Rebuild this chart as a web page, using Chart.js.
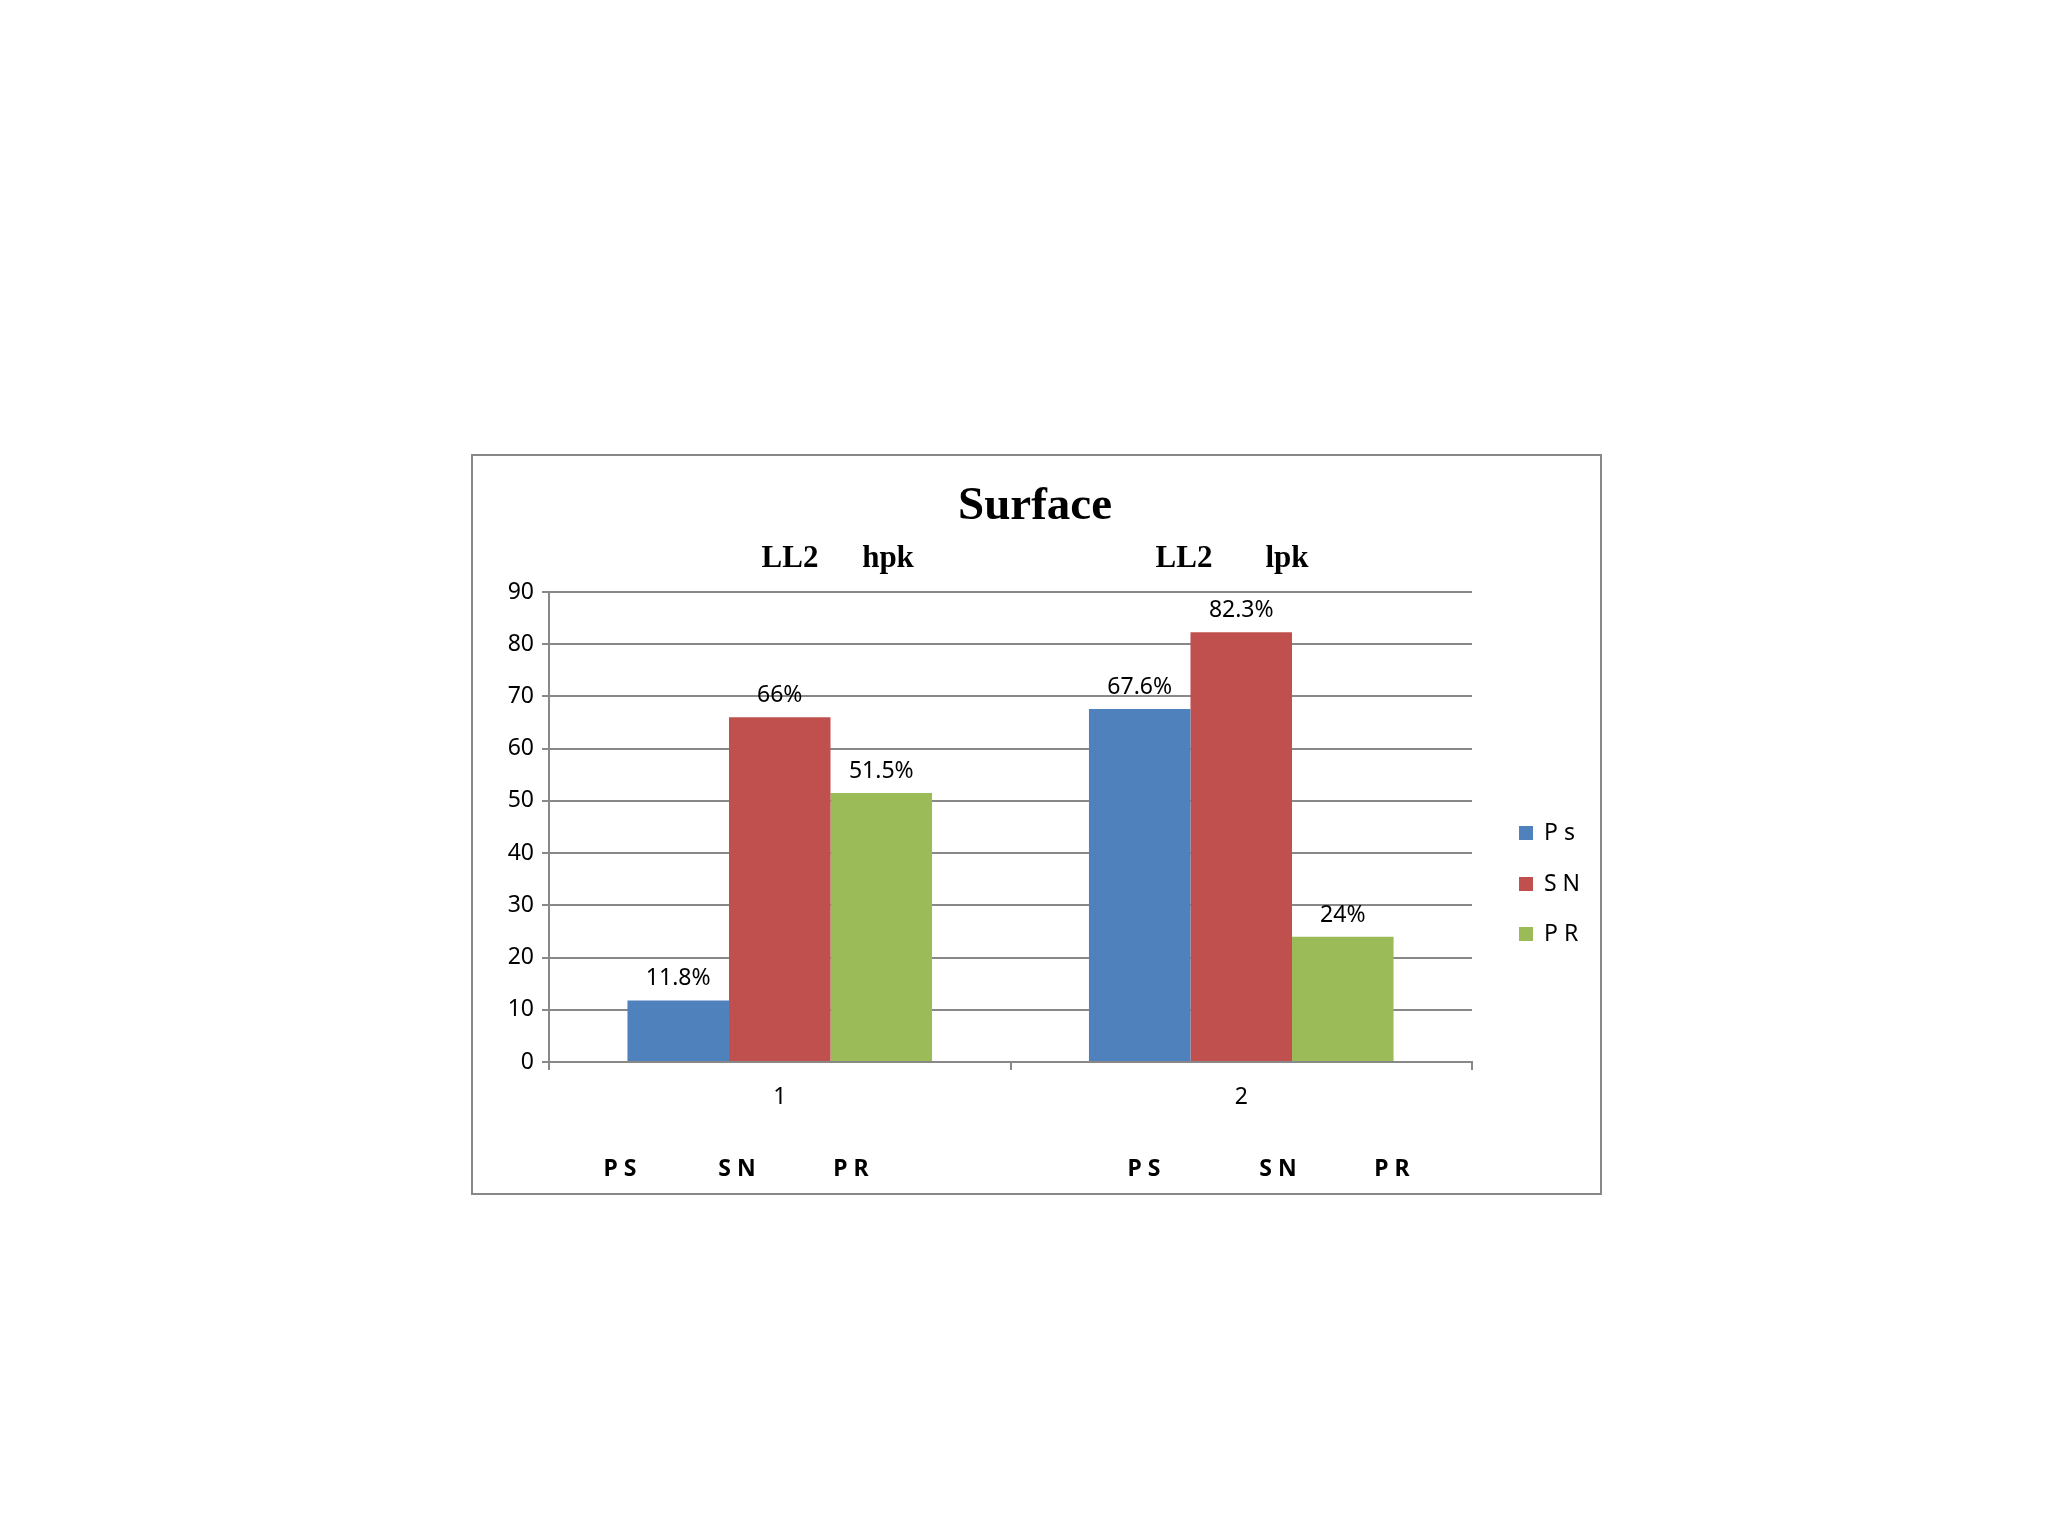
<!DOCTYPE html>
<html><head><meta charset="utf-8">
<script src="https://cdn.jsdelivr.net/npm/chart.js@4"></script>
<style>html,body{margin:0;padding:0;background:#fff}</style>
</head><body>
<canvas id="c" width="2048" height="1536"></canvas>
<script>
const categories = ["1", "2"];
const seriesNames = ["P s", "S N", "P R"];
const psValues = [11.8, 67.6];
const snValues = [66, 82.3];
const prValues = [51.5, 24];
const colors = ["#4F81BD", "#C0504D", "#9BBB59"];
const groupTitles = [["LL2", "hpk"], ["LL2", "lpk"]];
const bottomLabels = ["P S", "S N", "P R"];

const overlay = {
  id: 'overlay',
  afterDraw(chart) {
    const ctx = chart.ctx, ca = chart.chartArea, xs = chart.scales.x;
    ctx.save();
    ctx.strokeStyle = '#888'; ctx.lineWidth = 2;
    ctx.strokeRect(472, 455, 1129, 739);
    ctx.fillStyle = '#000'; ctx.textAlign = 'center'; ctx.textBaseline = 'middle';
    ctx.font = 'bold 47px "Liberation Serif"';
    ctx.fillText('Surface', 1035, 507);
    ctx.font = 'bold 31px "Liberation Serif"';
    const gx = [[790, 888], [1184, 1287]];
    groupTitles.forEach((g, i) => { ctx.fillText(g[0], gx[i][0], 559); ctx.fillText(g[1], gx[i][1], 559); });
    // data labels
    ctx.font = '23px "Noto Sans"'; ctx.textBaseline = 'bottom';
    chart.data.datasets.forEach((ds, di) => {
      chart.getDatasetMeta(di).data.forEach((bar, i) => {
        ctx.fillText(ds.data[i] + '%', bar.x, bar.y - 10);
      });
    });
    // bottom labels
    ctx.font = 'bold 23px "Noto Sans"'; ctx.textBaseline = 'middle';
    const bx = [[620, 737, 851], [1144, 1278, 1392]];
    bx.forEach(row => row.forEach((x, j) => ctx.fillText(bottomLabels[j], x, 1169)));
    // legend
    ctx.textAlign = 'left'; ctx.font = '23px "Noto Sans"';
    const ly = [833, 884, 934];
    seriesNames.forEach((n, i) => {
      ctx.fillStyle = colors[i]; ctx.fillRect(1519, ly[i] - 7, 14, 14);
      ctx.fillStyle = '#000'; ctx.fillText(n, 1544, ly[i]);
    });
    ctx.restore();
  }
};

new Chart(document.getElementById('c'), {
  type: 'bar',
  data: {
    labels: categories,
    datasets: [
      { label: seriesNames[0], data: psValues, backgroundColor: colors[0] },
      { label: seriesNames[1], data: snValues, backgroundColor: colors[1] },
      { label: seriesNames[2], data: prValues, backgroundColor: colors[2] }
    ]
  },
  options: {
    responsive: false, animation: false, devicePixelRatio: 1,
    layout: { padding: { left: 480, right: 576, top: 592, bottom: 414 } },
    plugins: { legend: { display: false }, title: { display: false }, tooltip: { enabled: false } },
    datasets: { bar: { categoryPercentage: 0.66, barPercentage: 1 } },
    scales: {
      x: {
        afterFit(s) { s.height = 60; },
        grid: { offset: true, drawOnChartArea: false, tickLength: 8, color: '#888', lineWidth: 2 },
        border: { color: '#888', width: 2 },
        ticks: { color: '#000', font: { family: 'Noto Sans', size: 23 }, padding: 14 }
      },
      y: {
        min: 0, max: 90,
        afterFit(s) { s.width = 69; },
        ticks: { stepSize: 10, color: '#000', font: { family: 'Noto Sans', size: 23 }, padding: 8 },
        grid: { color: '#888', lineWidth: 2, tickLength: 7 },
        border: { color: '#888', width: 2 }
      }
    }
  },
  plugins: [overlay]
});
</script>
</body></html>
